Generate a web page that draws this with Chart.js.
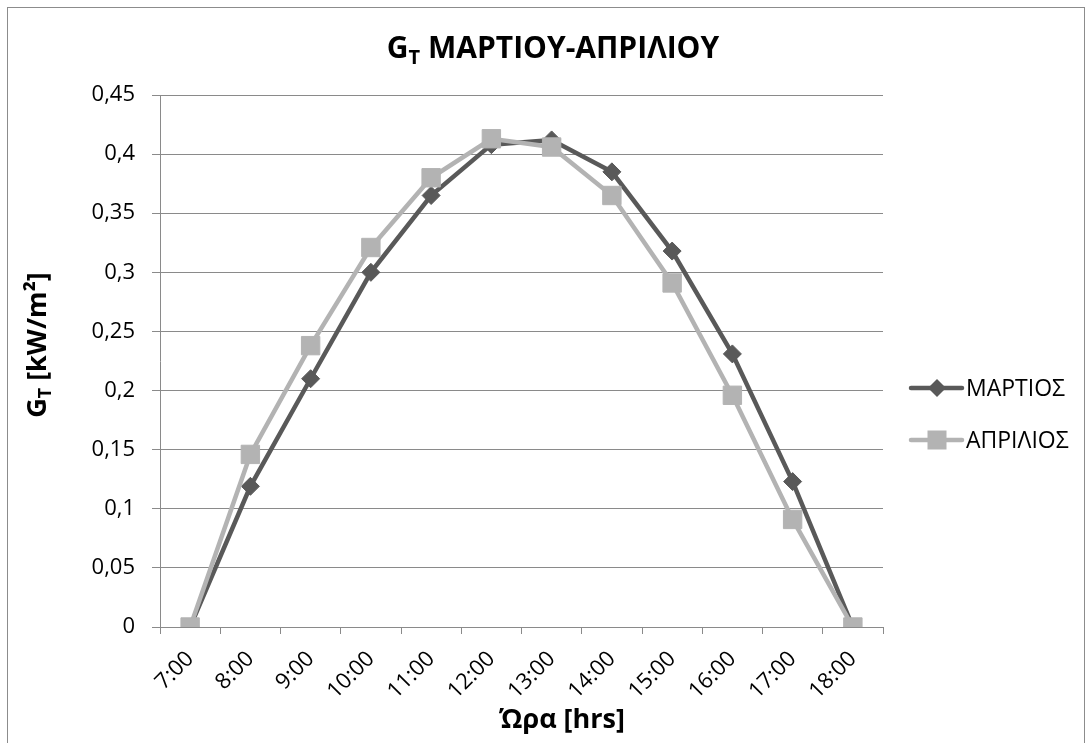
<!DOCTYPE html>
<html>
<head>
<meta charset="utf-8">
<script src="https://cdn.jsdelivr.net/npm/chart.js@4.4.1/dist/chart.umd.min.js"></script>
<style>
  html, body { margin: 0; padding: 0; background: #ffffff; }
  canvas { display: block; }
</style>
</head>
<body>
<canvas id="myChart" width="1091" height="743"></canvas>
<script>
// data
const hours = ['7:00', '8:00', '9:00', '10:00', '11:00', '12:00', '13:00', '14:00', '15:00', '16:00', '17:00', '18:00'];
const marchValues = [0, 0.119, 0.210, 0.300, 0.365, 0.408, 0.412, 0.385, 0.318, 0.231, 0.123, 0];
const aprilValues = [0, 0.146, 0.238, 0.321, 0.380, 0.413, 0.406, 0.365, 0.291, 0.196, 0.091, 0];
const seriesNames = ['ΜΑΡΤΙΟΣ', 'ΑΠΡΙΛΙΟΣ'];
const seriesColors = ['#595959', '#b3b3b3'];
const yMin = 0, yMax = 0.45, yStep = 0.05;

const FONT = '"Open Sans", "Noto Sans", sans-serif';
const gridColor = '#8a8a8a';

// draws text made of parts (normal / subscript), centred on cx
function drawParts(ctx, parts, cx, baseY) {
    let total = 0;
    parts.forEach(p => {
        ctx.font = 'bold ' + p.size + 'px ' + FONT;
        p.w = ctx.measureText(p.text).width;
        total += p.w;
    });
    let x = cx - total / 2;
    ctx.textAlign = 'left';
    ctx.textBaseline = 'alphabetic';
    parts.forEach(p => {
        ctx.font = 'bold ' + p.size + 'px ' + FONT;
        ctx.fillText(p.text, x, baseY + (p.dy || 0));
        x += p.w;
    });
}

const textPlugin = {
    id: 'excelTexts',
    beforeDraw(chart) {
        const ctx = chart.ctx;
        ctx.save();
        ctx.fillStyle = '#ffffff';
        ctx.fillRect(0, 0, chart.width, chart.height);
        ctx.strokeStyle = '#8c8c8c';
        ctx.lineWidth = 1;
        ctx.strokeRect(7.5, 7.5, 1077, 760);
        ctx.restore();
    },
    afterDraw(chart) {
        const ctx = chart.ctx;
        ctx.save();
        ctx.fillStyle = '#000000';

        // chart title with subscript T
        drawParts(ctx, [
            { text: 'G', size: 30 },
            { text: 'T', size: 20, dy: 6 },
            { text: ' ΜΑΡΤΙΟΥ-ΑΠΡΙΛΙΟΥ', size: 30 }
        ], 553, 58);

        // x axis title
        drawParts(ctx, [{ text: 'Ώρα [hrs]', size: 27 }], 562, 728);

        // y axis title, rotated
        ctx.save();
        ctx.translate(46, 345);
        ctx.rotate(-Math.PI / 2);
        drawParts(ctx, [
            { text: 'G', size: 27 },
            { text: 'T', size: 18, dy: 5 },
            { text: ' [kW/m²]', size: 27 }
        ], 0, 0);
        ctx.restore();

        // legend
        const legendY = [388, 440];
        seriesNames.forEach((name, i) => {
            const y = legendY[i];
            ctx.strokeStyle = seriesColors[i];
            ctx.lineWidth = 4.5;
            ctx.lineCap = 'round';
            ctx.beginPath();
            ctx.moveTo(911, y);
            ctx.lineTo(962, y);
            ctx.stroke();
            ctx.fillStyle = seriesColors[i];
            ctx.beginPath();
            if (i === 0) {
                ctx.moveTo(937, y - 9);
                ctx.lineTo(946, y);
                ctx.lineTo(937, y + 9);
                ctx.lineTo(928, y);
                ctx.closePath();
            } else {
                ctx.rect(927.5, y - 9.5, 19, 19);
            }
            ctx.fill();
            ctx.fillStyle = '#000000';
            ctx.font = '23px ' + FONT;
            ctx.textAlign = 'left';
            ctx.textBaseline = 'middle';
            ctx.fillText(name, 966, y + 1);
        });
        ctx.restore();
    }
};

const ctx = document.getElementById('myChart').getContext('2d');
const myChart = new Chart(ctx, {
    type: 'line',
    data: {
        labels: hours,
        datasets: [
            {
                label: seriesNames[0],
                data: marchValues,
                borderColor: seriesColors[0],
                backgroundColor: seriesColors[0],
                borderWidth: 4.5,
                pointStyle: 'rectRot',
                pointRadius: 9,
                pointBorderWidth: 1,
                tension: 0,
                order: 1
            },
            {
                label: seriesNames[1],
                data: aprilValues,
                borderColor: seriesColors[1],
                backgroundColor: seriesColors[1],
                borderWidth: 4.5,
                pointStyle: 'rect',
                pointRadius: 13,
                pointBorderWidth: 1,
                tension: 0,
                order: 0
            }
        ]
    },
    options: {
        responsive: false,
        animation: false,
        devicePixelRatio: 1,
        layout: {
            padding: { left: 0, right: 208, top: 95, bottom: 0 }
        },
        plugins: {
            legend: { display: false },
            title: { display: false },
            tooltip: { enabled: false }
        },
        scales: {
            x: {
                type: 'category',
                offset: true,
                afterFit: scale => { scale.height = 116; },
                grid: {
                    offset: true,
                    drawOnChartArea: false,
                    drawTicks: true,
                    tickLength: 7,
                    color: gridColor
                },
                border: { color: gridColor, width: 1 },
                ticks: {
                    autoSkip: false,
                    minRotation: 45,
                    maxRotation: 45,
                    padding: 12,
                    color: '#000000',
                    font: { family: FONT, size: 22 }
                }
            },
            y: {
                min: yMin,
                max: yMax,
                afterFit: scale => { scale.width = 160; },
                grid: {
                    color: gridColor,
                    lineWidth: 1,
                    tickLength: 8
                },
                border: { color: gridColor, width: 1 },
                ticks: {
                    stepSize: yStep,
                    padding: 17,
                    color: '#000000',
                    font: { family: FONT, size: 22 },
                    callback: value => String(+value.toFixed(2)).replace('.', ',')
                }
            }
        }
    },
    plugins: [textPlugin]
});
</script>
</body>
</html>
